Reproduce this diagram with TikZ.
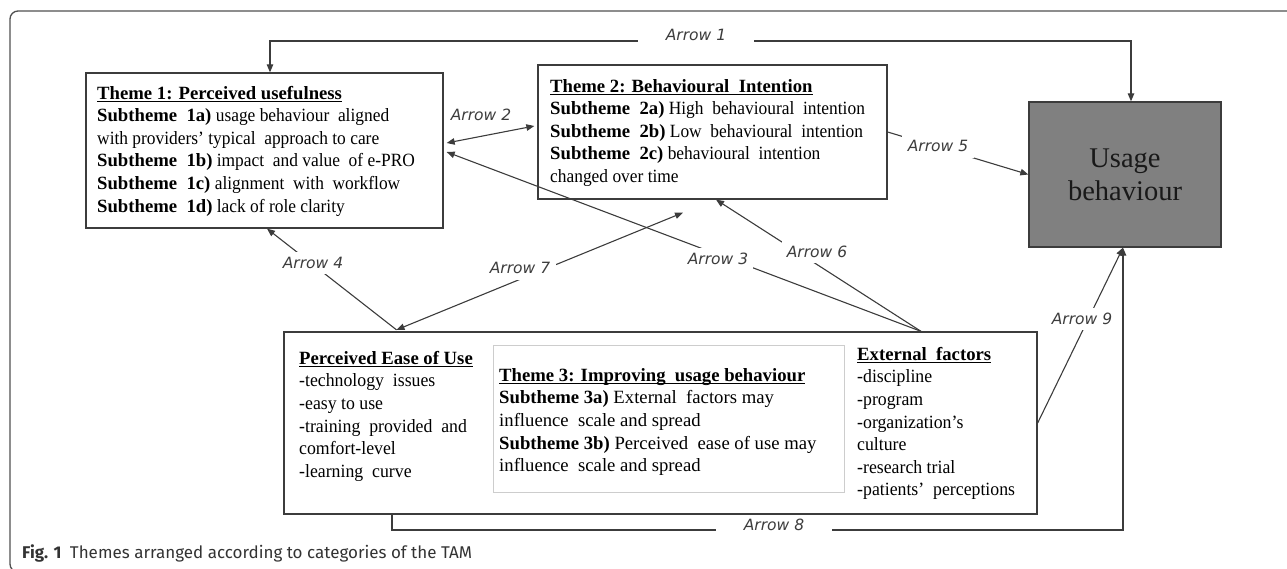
\documentclass[tikz,border=0pt]{standalone}
\usepackage{fontspec}
\setmainfont{Liberation Serif}
\newfontfamily\titlef{Liberation Serif}
\newfontfamily\fA{Liberation Serif}[FakeStretch=0.93]
\newfontfamily\fC{Liberation Serif}[FakeStretch=0.95]
\newfontfamily\arrowfont{DejaVu Sans}
\newfontfamily\capfont{Fira Sans}
\usetikzlibrary{arrows.meta}
\definecolor{linec}{RGB}{60,60,60}
\definecolor{ubfill}{RGB}{128,128,128}
\definecolor{innerc}{RGB}{205,205,205}
\definecolor{framec}{RGB}{80,80,80}
\newcommand{\ulh}[1]{\setbox0\hbox{#1}\rlap{\rule[-2.8pt]{\wd0}{1.1pt}}\box0}
\newcommand{\ttl}[1]{{\titlef\bfseries\ulh{#1}}}
\newcommand{\sbt}[1]{{\titlef\bfseries Subtheme\ \ #1}}
\begin{document}
\begin{tikzpicture}[x=1pt,y=-1pt,
  >={Triangle[length=8pt,width=6.5pt]},
  box/.style={draw=linec, line width=1.3pt, inner sep=0pt, anchor=center},
  txt/.style={anchor=north west, inner sep=0pt, align=left},
  sz/.style={font=#1\fontsize{18.7}{22.6}\selectfont},
  conn/.style={draw=linec, line width=1.1pt},
  lbl/.style={font=\arrowfont\itshape\fontsize{15.5}{18}\selectfont, text=linec, inner sep=5pt},
  gap/.style={fill=white}
]
\useasboundingbox (0,0) rectangle (1287,569);
\draw[framec, line width=1.3pt, rounded corners=8pt] (10,11) rectangle (1300,572);

% boxes
\node[box, minimum width=357pt, minimum height=155pt] (t1) at (264.5,150.5) {};
\node[box, minimum width=349pt, minimum height=134pt] (t2) at (712.5,132) {};
\node[box, fill=ubfill, minimum width=192pt, minimum height=145pt, align=center,
      font=\fontsize{28.5}{33}\selectfont, text={black!90}] (ub) at (1125,174.5) {Usage\\behaviour};
\node[box, minimum width=753pt, minimum height=182pt] (bot) at (660.5,423) {};
\node[draw=innerc, line width=1pt, inner sep=0pt, minimum width=351pt, minimum height=147pt] (t3) at (668.5,418.5) {};

% texts
\node[txt, sz=\fA] (t1txt) at (97,85) {\rule{0pt}{14pt}\ttl{Theme 1: Perceived usefulness}\\
\sbt{1a)} usage behaviour\ \ aligned\\
with providers’ typical\ \ approach to care\\
\sbt{1b)} impact\ \ and value\ \ of e-PRO\\
\sbt{1c)} alignment\ \ with\ \ workflow\\
\sbt{1d)} lack of role clarity};

\node[txt, sz=\fA] (t2txt) at (550,78) {\rule{0pt}{14pt}\ttl{Theme 2: Behavioural\ \ Intention}\\
\sbt{2a)} High\ \ behavioural\ \ intention\\
\sbt{2b)} Low\ \ behavioural\ \ intention\\
\sbt{2c)} behavioural\ \ intention\\
changed over time};

\node[txt, sz=\fC] (peoutxt) at (299,350) {\rule{0pt}{14pt}\ttl{Perceived Ease of Use}\\
-technology\ \ issues\\
-easy to use\\
-training\ \ provided\ \ and\\
comfort-level\\
-learning\ \ curve};

\node[txt, sz=\titlef] (t3txt) at (499,367) {\rule{0pt}{14pt}\ttl{Theme 3: Improving\ \ usage behaviour}\\
\textbf{Subtheme 3a)} External\ \ factors may\\
influence\ \ scale and spread\\
\textbf{Subtheme 3b)} Perceived\ \ ease of use may\\
influence\ \ scale and spread};

\node[txt, sz=\fC] (exttxt) at (857,346) {\rule{0pt}{14pt}\ttl{External\ \ factors}\\
-discipline\\
-program\\
-organization’s\\
culture\\
-research trial\\
-patients’\ \ perceptions};

% anchor points
\coordinate (a1y) at (0,41);
\coordinate (a1s) at ([xshift=5.5pt]t1.north);
\coordinate (a1e) at ([xshift=6pt]ub.north);
\coordinate (ext) at ([xshift=260.5pt]bot.north);
\coordinate (peou) at ([xshift=-264pt,yshift=1.5pt]bot.north);
\coordinate (a8s) at ([xshift=-268.5pt]bot.south);
\coordinate (a8y) at (0,530);
\coordinate (ubin) at ([xshift=-2pt]ub.south);

% connectors
\draw[conn,<->] (a1s) -- (a1s |- a1y) -- (a1e |- a1y) -- (a1e);
\draw[conn,<->] ([xshift=3pt,yshift=7.5pt]t1.east) -- ([xshift=-3pt,yshift=6pt]t2.west);
\draw[conn,->] (ext) -- ([xshift=3pt,yshift=-1.5pt]t1.east);
\draw[conn,->] (peou) -- ([xshift=2.5pt]t1.south);
\draw[conn,->] (t2.east) -- (ub.west);
\draw[conn,->] (ext) -- ([xshift=3.5pt]t2.south);
\draw[conn,<->] (peou) -- ([xshift=-29.5pt,yshift=-13pt]t2.south);
\draw[conn,->] (a8s) -- (a8s |- a8y) -- (ubin |- a8y) -- (ubin);
\draw[conn,->] (bot.east) -- (ubin);

% labels
\node[lbl, gap, inner xsep=28pt] (l1) at (696,35) {Arrow 1};
\node[lbl] (l2) at (481,115) {Arrow 2};
\node[lbl, gap] (l3) at (718,259) {Arrow 3};
\node[lbl, gap] (l4) at (313,263) {Arrow 4};
\node[lbl, gap, inner sep=6pt] (l5) at (938,146) {Arrow 5};
\node[lbl, gap] (l6) at (817,252) {Arrow 6};
\node[lbl, gap, inner sep=6pt] (l7) at (520,268) {Arrow 7};
\node[lbl, gap, inner xsep=28pt, inner ysep=3pt] (l8) at (774,525) {Arrow 8};
\node[lbl, gap] (l9) at (1082,319) {Arrow 9};

% caption
\node[anchor=base west, inner sep=0pt, font=\capfont\fontsize{17}{20}\selectfont, text=black!80] (cap) at (22,558) {\textbf{Fig. 1}\hspace{0.5em}Themes arranged according to categories of the TAM};
\end{tikzpicture}
\end{document}
